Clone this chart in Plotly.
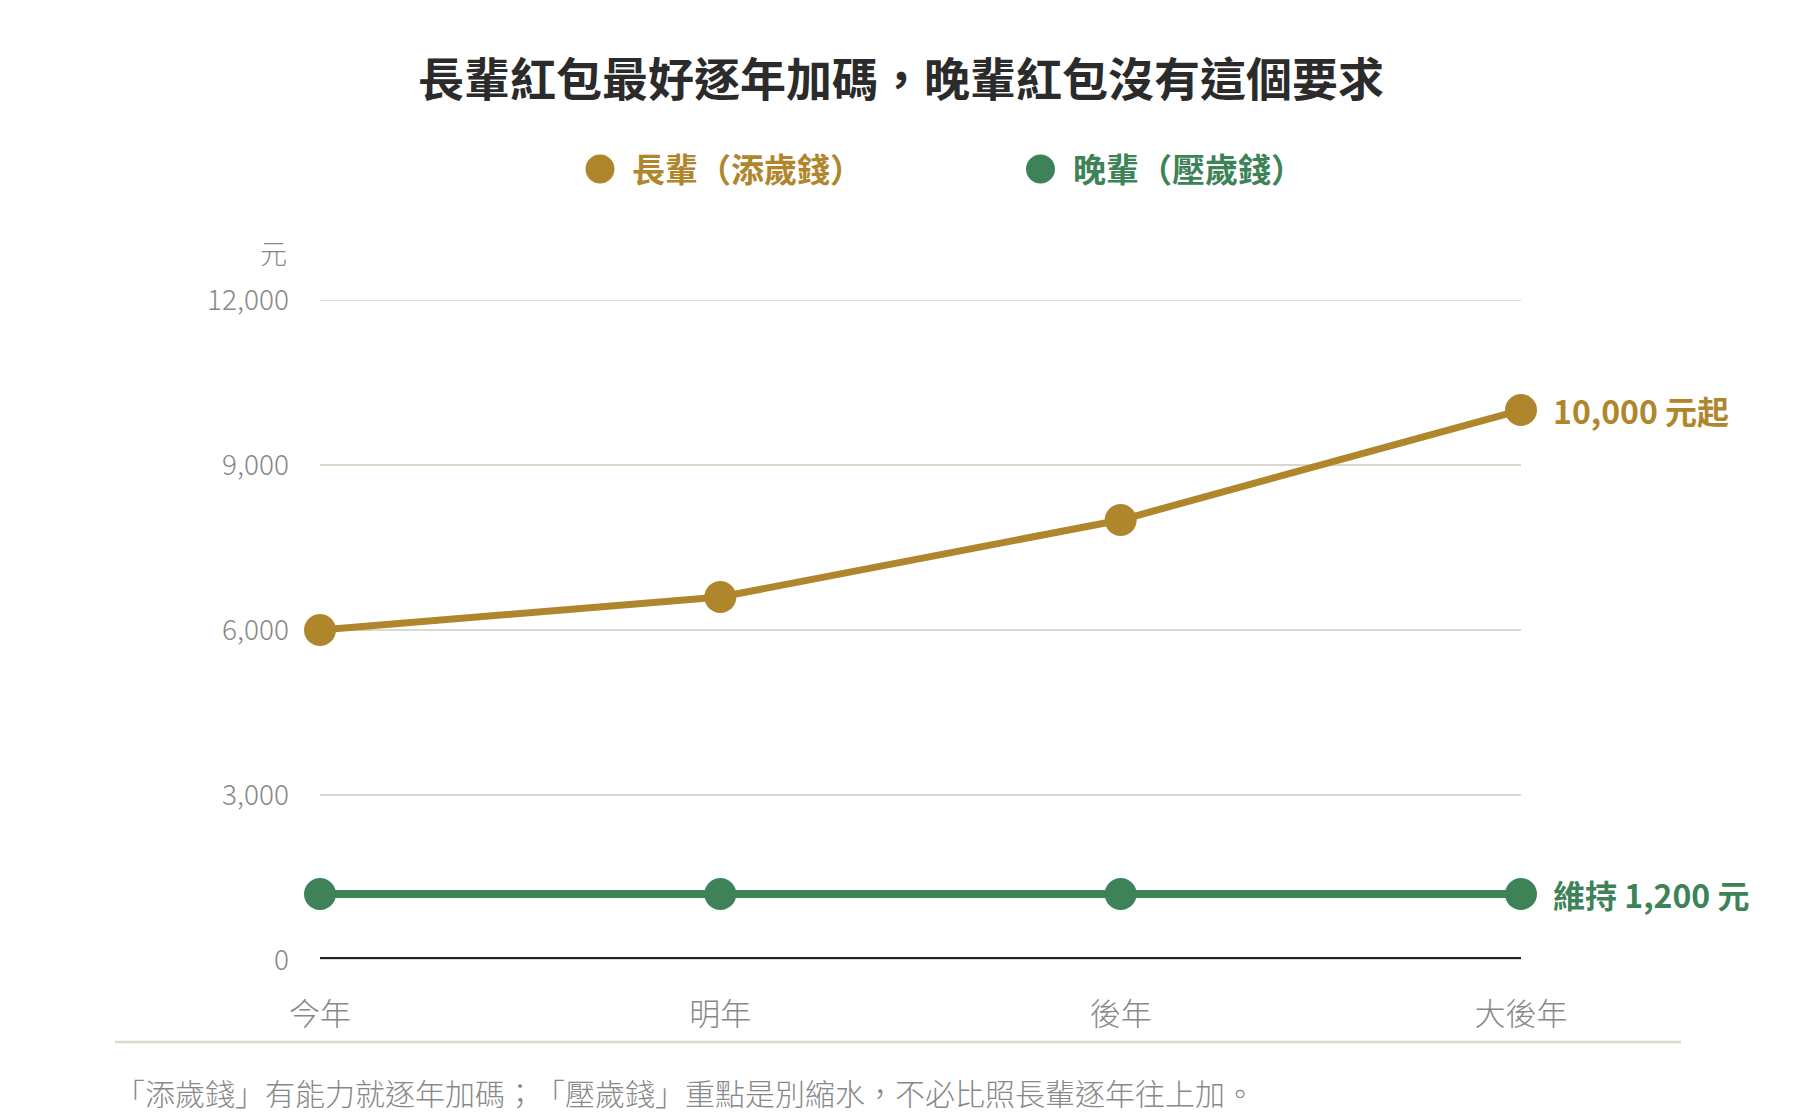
import plotly.graph_objects as go

# ---- data ----
categories = ["今年", "明年", "後年", "大後年"]
elder_values = [6000, 6600, 8000, 10000]      # 長輩（添歲錢）
junior_values = [1200, 1200, 1200, 1200]      # 晚輩（壓歲錢）
y_tick_values = [0, 3000, 6000, 9000, 12000]
series_names = ["長輩（添歲錢）", "晚輩（壓歲錢）"]
title_text = "長輩紅包最好逐年加碼，晚輩紅包沒有這個要求"
footer_text = "「添歲錢」有能力就逐年加碼；「壓歲錢」重點是別縮水，不必比照長輩逐年往上加。"
unit_text = "元"

GOLD = "#B0862C"
GREEN = "#3D8357"
GRID = "#DCD8CB"
FONT = "Noto Sans CJK TC"
NOTRIM = "text-spacing-trim:space-all;font-feature-settings:'chws' 0,'halt' 0"


def keep(s):
    return f'<span style="{NOTRIM}">{s}</span>'


OFF = 8  # page body margin
W, H = 1800, 1120
# plot area in page pixels (measured), converted to figure pixels
L, R, T, B = 320 - OFF, 1521 - OFF, 300 - OFF, 960 - OFF
pw, ph = R - L, B - T


def px_x(x):
    return (x - OFF - L) / pw


def px_y(y):
    return (B - (y - OFF)) / ph


fig = go.Figure()
fig.add_trace(go.Scatter(
    x=categories, y=elder_values, mode="lines+markers", name=series_names[0],
    line=dict(color=GOLD, width=7), marker=dict(color=GOLD, size=32),
    cliponaxis=False, showlegend=False, hoverinfo="x+y"))
fig.add_trace(go.Scatter(
    x=categories, y=junior_values, mode="lines+markers", name=series_names[1],
    line=dict(color=GREEN, width=8), marker=dict(color=GREEN, size=32),
    cliponaxis=False, showlegend=False, hoverinfo="x+y"))

shapes = []
# top gridline (range edge)
shapes.append(dict(type="line", xref="x", yref="y", x0=0, x1=len(categories) - 1,
                   y0=y_tick_values[-1], y1=y_tick_values[-1],
                   line=dict(color=GRID, width=2), layer="below"))
# baseline: dark-beige-dark double line
shapes.append(dict(type="line", xref="x", yref="y", x0=0, x1=len(categories) - 1,
                   y0=0, y1=0, line=dict(color="#222222", width=6), layer="above"))
shapes.append(dict(type="line", xref="x", yref="y", x0=0, x1=len(categories) - 1,
                   y0=0, y1=0, line=dict(color=GRID, width=2), layer="above"))
# footer separator
shapes.append(dict(type="line", xref="paper", yref="paper", x0=px_x(115), x1=px_x(1681),
                   y0=px_y(1042), y1=px_y(1042), line=dict(color=GRID, width=2.5)))
# legend dots
for cx, col in [(600, GOLD), (1040.5, GREEN)]:
    shapes.append(dict(type="circle", xref="paper", yref="paper",
                       xsizemode="pixel", ysizemode="pixel",
                       xanchor=px_x(cx), yanchor=px_y(169),
                       x0=-14.5, x1=14.5, y0=-14.5, y1=14.5,
                       fillcolor=col, line=dict(width=0)))

annotations = []
# legend texts
for tx, col, name in [(630, GOLD, series_names[0]), (1071, GREEN, series_names[1])]:
    annotations.append(dict(xref="paper", yref="paper", x=px_x(tx), y=px_y(168),
                            xanchor="left", yanchor="middle", showarrow=False,
                            text=keep(name),
                            font=dict(family=FONT, size=33, color=col, weight="bold")))
# end labels
annotations.append(dict(xref="x", yref="y", x=len(categories) - 1, y=elder_values[-1],
                        xanchor="left", yanchor="middle", xshift=30, showarrow=False,
                        text=f"{elder_values[-1]:,} 元起",
                        font=dict(family=FONT, size=32, color=GOLD, weight="bold")))
annotations.append(dict(xref="x", yref="y", x=len(categories) - 1, y=junior_values[-1],
                        xanchor="left", yanchor="middle", xshift=30, showarrow=False,
                        text=f"維持 {junior_values[-1]:,} 元",
                        font=dict(family=FONT, size=32, color=GREEN, weight="bold")))
# unit
annotations.append(dict(xref="paper", yref="paper", x=px_x(289), y=px_y(253),
                        xanchor="right", yanchor="middle", showarrow=False,
                        text=unit_text,
                        font=dict(family=FONT, size=27, color="#888888", weight=300)))
# footer
annotations.append(dict(xref="paper", yref="paper", x=px_x(113), y=px_y(1092),
                        xanchor="left", yanchor="middle", showarrow=False,
                        text=keep(footer_text),
                        font=dict(family=FONT, size=30, color="#888888", weight=300)))

fig.update_layout(
    width=W, height=H,
    margin=dict(l=L, r=W - R, t=T, b=H - B),
    paper_bgcolor="white", plot_bgcolor="white",
    title=dict(text=keep(title_text), xref="container", x=(901 - OFF) / W, xanchor="center",
               yref="container", y=1 - (80 - OFF) / H, yanchor="middle",
               font=dict(family=FONT, size=46, color="#2B2B2B", weight="bold")),
    shapes=shapes, annotations=annotations,
    showlegend=False,
    font=dict(family=FONT),
)
fig.update_xaxes(type="category", categoryorder="array", categoryarray=categories,
                 range=[0, len(categories) - 1], showgrid=False, zeroline=False,
                 showline=False, ticks="", ticklabelstandoff=33,
                 tickfont=dict(family=FONT, size=31, color="#888888", weight=300))
fig.update_yaxes(range=[0, y_tick_values[-1]], tickvals=y_tick_values, tickformat=",",
                 showgrid=True, gridcolor=GRID, gridwidth=2, zeroline=False,
                 showline=False, ticks="", ticklabelstandoff=30,
                 tickfont=dict(family=FONT, size=28, color="#888888", weight=300))

fig.write_html("out.html")
